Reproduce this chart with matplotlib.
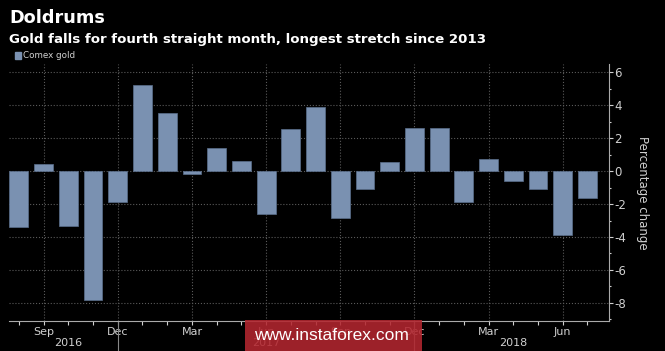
import matplotlib
matplotlib.use("Agg")
import matplotlib.pyplot as plt
from matplotlib.patches import Rectangle

# monthly % change in Comex gold, Aug 2016 .. Jul 2018
months = ["Aug", "Sep", "Oct", "Nov", "Dec",
          "Jan", "Feb", "Mar", "Apr", "May", "Jun", "Jul",
          "Aug", "Sep", "Oct", "Nov", "Dec",
          "Jan", "Feb", "Mar", "Apr", "May", "Jun", "Jul"]
changes = [-3.4, 0.45, -3.33, -7.8, -1.85,
           5.24, 3.54, -0.18, 1.39, 0.59, -2.58, 2.53,
           3.86, -2.83, -1.09, 0.53, 2.59,
           2.59, -1.88, 0.75, -0.6, -1.09, -3.86, -1.63]
labelled_months = ["Sep", "Dec", "Mar", "Jun"]
years = ["2016", "2017", "2018"]
year_pos = [2, 10, 20]
y_ticks = [-8, -6, -4, -2, 0, 2, 4, 6]

bar_color = "#7a91b1"
text_color = "#d0d0d0"
grid_color = "#5a5a5a"

fig = plt.figure(figsize=(6.65, 3.51), dpi=100, facecolor="black")
ax = fig.add_axes([9 / 665, 1 - 321 / 351, 600 / 665, 257 / 351])
ax.set_facecolor("black")

x = list(range(len(changes)))
ax.bar(x, changes, width=0.76, color=bar_color, edgecolor="#5b6f8c", linewidth=0.5, zorder=3)

ax.set_xlim(-0.4, 23.87)
ax.set_ylim(-9.1, 6.5)

# y axis on the right
ax.yaxis.tick_right()
ax.yaxis.set_label_position("right")
ax.set_yticks(y_ticks)
ax.set_yticklabels([str(v) for v in y_ticks])
ax.set_yticks([v + 1 for v in y_ticks[:-1]] + [-9], minor=True)
ax.tick_params(axis="y", which="major", colors=text_color, labelsize=8.5, length=3, width=0.8, pad=1, direction="out")
ax.tick_params(axis="y", which="minor", colors=text_color, length=1.5, width=0.8, direction="out")
ax.set_ylabel("Percentage change", color=text_color, fontsize=8.5, rotation=270, labelpad=16)

# x axis: a tick every month, labels every quarter
major_x = [i for i, m in enumerate(months) if m in labelled_months]
ax.set_xticks(major_x)
ax.set_xticklabels([months[i] for i in major_x])
ax.set_xticks(x, minor=True)
ax.tick_params(axis="x", which="both", colors=text_color, labelsize=8, length=3, width=0.8, pad=1)

for i, yr in zip(year_pos, years):
    ax.text(i, -0.065, yr, transform=ax.get_xaxis_transform(), ha="center", va="top",
            color=text_color, fontsize=8)
for i in [4, 16]:
    ax.plot([i, i], [0, -0.12], transform=ax.get_xaxis_transform(), color="#888888",
            lw=0.8, clip_on=False)

ax.grid(True, which="major", color=grid_color, linestyle=":", linewidth=0.8, zorder=0)

for side in ["top", "left"]:
    ax.spines[side].set_visible(False)
for side in ["bottom", "right"]:
    ax.spines[side].set_color("#aaaaaa")
    ax.spines[side].set_linewidth(0.8)

# titles and legend
fig.text(9 / 665, 1 - 18 / 351, "Doldrums", color="white", fontsize=12.7, fontweight="bold",
         va="center", ha="left")
fig.text(9 / 665, 1 - 39 / 351, "Gold falls for fourth straight month, longest stretch since 2013",
         color="white", fontsize=9.6, fontweight="bold", va="center", ha="left")
fig.patches.append(Rectangle((15 / 665, 1 - 59 / 351), 6 / 665, 7 / 351, transform=fig.transFigure,
                             color=bar_color, figure=fig))
fig.text(23 / 665, 1 - 55.5 / 351, "Comex gold", color=text_color, fontsize=6.3, va="center", ha="left")

# watermark box
fig.patches.append(Rectangle((245 / 665, 0), 177 / 665, 31 / 351, transform=fig.transFigure,
                             facecolor="#b3262f", alpha=0.88, edgecolor="none", figure=fig, zorder=10))
fig.text(331 / 665, 15 / 351, "www.instaforex.com", color="white", fontsize=12.5,
         family="Liberation Sans", ha="center", va="center", zorder=11)

fig.savefig("out.png", dpi=100, facecolor="black")
